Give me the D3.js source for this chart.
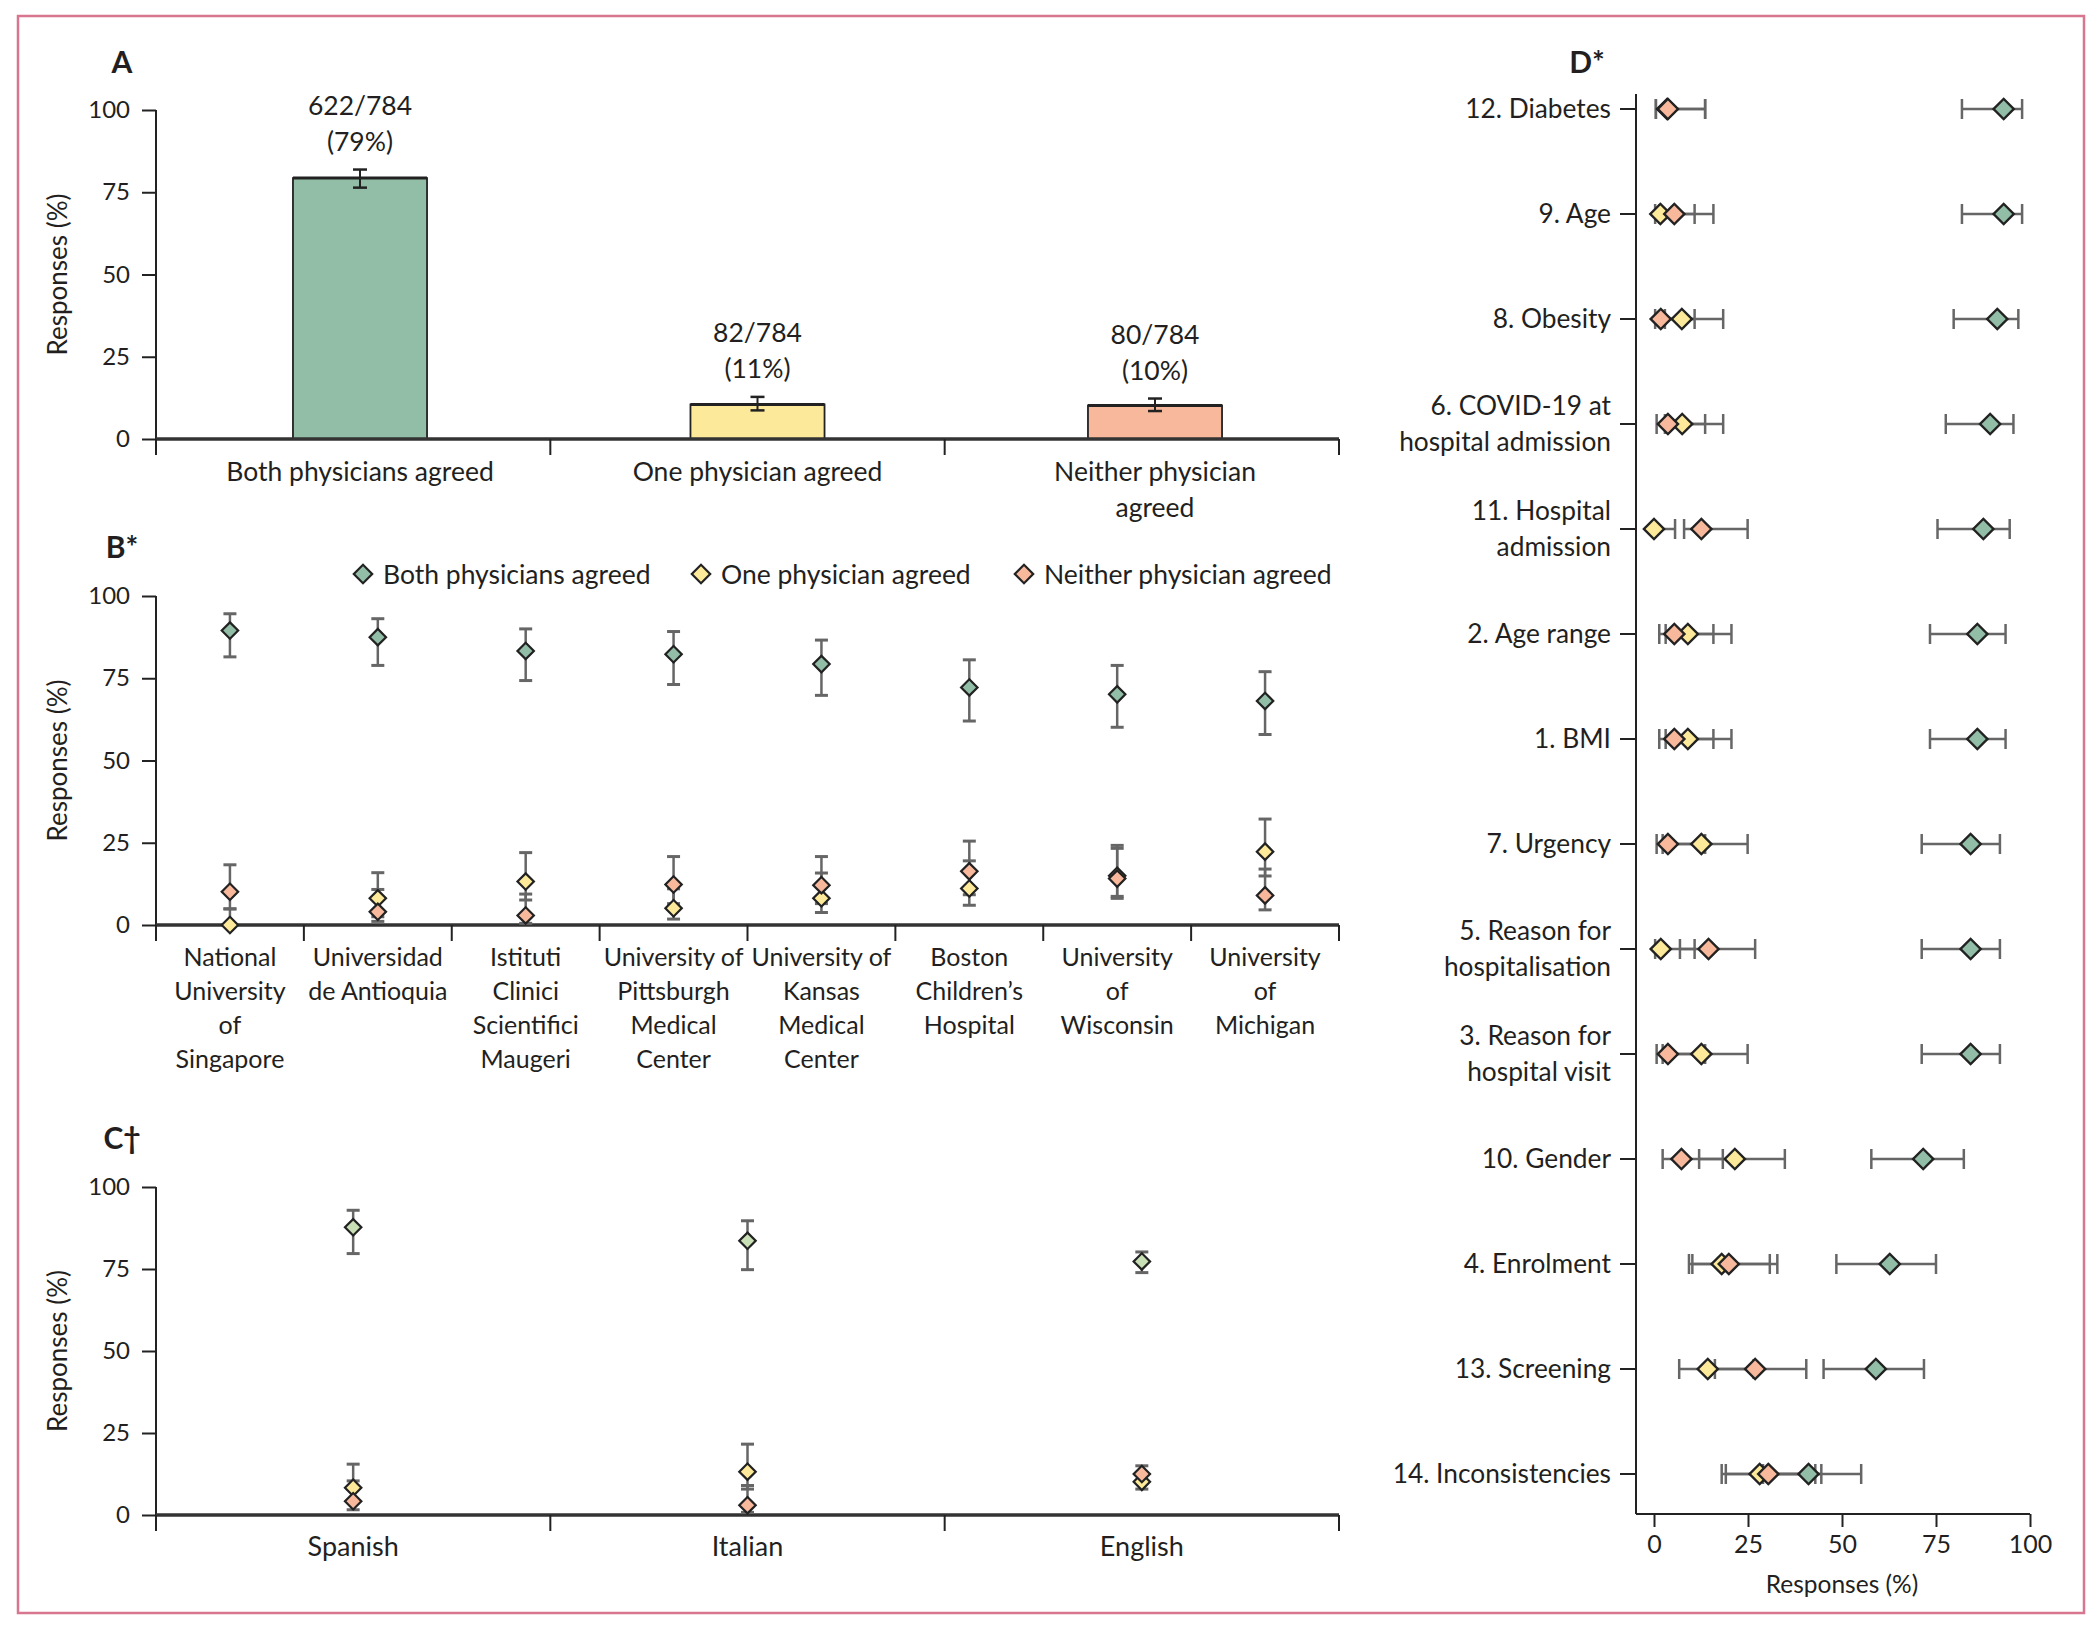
<!DOCTYPE html>
<html>
<head>
<meta charset="utf-8">
<script src="https://d3js.org/d3.v7.min.js"></script>
<style>
    body { margin: 0; background: #fff; }
    text { font-family: Lato, "Open Sans", sans-serif; fill: #231f20; }
    .ytitle { font-size: 26px; }
    .letter { font-weight: bold; font-size: 30px; }
    .tick text { font-size: 24px; font-family: Lato, sans-serif; }
</style>
</head>
<body>
<script>
    const width = 2100,
        height = 1626;

    // series shared by all panels
    const seriesNames = ["Both physicians agreed", "One physician agreed", "Neither physician agreed"];
    const seriesColors = ["#92bea7", "#fde99a", "#f8b89c"];
    const langGreen = "#c9e0b6";

    // panel A
    const agreeCats = ["Both physicians agreed", "One physician agreed", "Neither physician\nagreed"];
    const agreeCounts = ["622/784", "82/784", "80/784"];
    const agreePct = ["(79%)", "(11%)", "(10%)"];
    const agreeValues = [79.3, 10.5, 10.2];
    const agreeLow = [76.4, 8.7, 8.5];
    const agreeHigh = [81.9, 12.8, 12.3];

    // panel B: [value, low, high]
    const sites = ["National\nUniversity\nof\nSingapore", "Universidad\nde Antioquia", "Istituti\nClinici\nScientifici\nMaugeri",
        "University of\nPittsburgh\nMedical\nCenter", "University of\nKansas\nMedical\nCenter", "Boston\nChildren\u2019s\nHospital",
        "University\nof\nWisconsin", "University\nof\nMichigan"];
    const siteBoth = [[89.5, 81.5, 94.6], [87.5, 78.9, 93.1], [83.3, 74.3, 90.0], [82.3, 73.1, 89.2],
        [79.3, 69.8, 86.6], [72.2, 62.0, 80.6], [70.1, 60.1, 78.9], [68.1, 57.9, 77.0]];
    const siteOne = [[0, 0, 4.9], [8.1, 2.5, 15.9], [13.2, 7.6, 22.0], [5.1, 1.8, 11.0],
        [8.1, 3.8, 15.8], [11.1, 6.0, 19.5], [15.0, 8.7, 24.2], [22.3, 14.9, 32.2]];
    const siteNeither = [[10.1, 4.9, 18.3], [4.0, 1.1, 10.8], [2.9, 0.5, 9.4], [12.3, 6.5, 20.8],
        [12.1, 6.5, 20.8], [16.3, 9.2, 25.5], [14.1, 8.1, 23.3], [9.0, 4.6, 17.0]];

    // panel C
    const languages = ["Spanish", "Italian", "English"];
    const langBoth = [[87.7, 79.7, 92.9], [83.6, 74.8, 89.7], [77.3, 73.9, 80.2]];
    const langOne = [[8.3, 4.0, 15.5], [13.2, 7.9, 21.6], [10.1, 7.9, 12.9]];
    const langNeither = [[4.2, 1.6, 10.4], [3.0, 0.8, 9.0], [12.5, 10.6, 15.0]];

    // panel D
    const questions = ["12. Diabetes", "9. Age", "8. Obesity", "6. COVID-19 at\nhospital admission", "11. Hospital\nadmission",
        "2. Age range", "1. BMI", "7. Urgency", "5. Reason for\nhospitalisation", "3. Reason for\nhospital visit",
        "10. Gender", "4. Enrolment", "13. Screening", "14. Inconsistencies"];
    const qBoth = [[93.0, 81.9, 97.9], [93.0, 81.9, 97.9], [91.3, 79.7, 96.9], [89.4, 77.6, 95.6], [87.6, 75.4, 94.6],
        [86.0, 73.4, 93.5], [86.0, 73.4, 93.5], [84.2, 71.2, 92.0], [84.2, 71.2, 92.0], [84.2, 71.2, 92.0],
        [71.6, 57.8, 82.4], [62.7, 48.5, 75.0], [59.0, 45.1, 71.8], [41.1, 29.0, 55.1]];
    const qOne = [[3.5, 0.5, 13.6], [1.7, 0.3, 10.8], [7.4, 2.9, 18.4], [7.5, 2.9, 18.4], [0, 0, 5.6],
        [9.0, 3.1, 20.6], [9.0, 3.1, 20.6], [12.6, 2.3, 24.9], [1.8, 0.3, 10.8], [12.6, 2.3, 24.9],
        [21.5, 12.0, 34.8], [18.0, 9.3, 30.8], [14.3, 6.7, 26.5], [28.1, 18.0, 42.9]];
    const qNeither = [[3.7, 0.5, 13.6], [5.4, 1.5, 15.8], [1.8, 0.3, 10.8], [3.7, 0.7, 13.6], [12.6, 8.0, 24.9],
        [5.4, 1.4, 15.8], [5.4, 1.4, 15.8], [3.7, 0.7, 13.6], [14.5, 6.9, 26.9], [3.7, 0.7, 13.6],
        [7.3, 2.3, 18.3], [19.9, 10.2, 32.8], [26.9, 16.2, 40.5], [30.4, 19.1, 44.5]];

    const pctTicks = [0, 25, 50, 75, 100];
    const errColor = "#666";
    const markStroke = "#222";

    const svg = d3.select("body").append("svg").attr("width", width).attr("height", height);

    svg.append("rect")
        .attr("x", 18).attr("y", 16).attr("width", 2066).attr("height", 1597)
        .attr("fill", "none").attr("stroke", "#d8768f").attr("stroke-width", 2.5);

    function lines(g, str, x, y, lh, anchor, size) {
        const t = g.append("text")
            .attr("x", x).attr("y", y)
            .attr("text-anchor", anchor || "middle")
            .attr("font-size", size || 25);
        str.split("\n").forEach((s, i) => {
            t.append("tspan").attr("x", x).attr("dy", i === 0 ? "0.35em" : lh).text(s);
        });
        return t;
    }

    function diamond(area) {
        return d3.symbol().type(d3.symbolSquare).size(area)();
    }

    function yAxisLeft(g, y, x0, bottom, title) {
        const ax = g.append("g")
            .attr("transform", `translate(${x0},0)`)
            .call(d3.axisLeft(y).tickValues(pctTicks).tickSize(14).tickPadding(12));
        ax.select(".domain").remove();
        ax.selectAll(".tick line").attr("stroke", "#222").attr("stroke-width", 2);
        g.append("line")
            .attr("x1", x0).attr("x2", x0)
            .attr("y1", y(100)).attr("y2", bottom)
            .attr("stroke", "#222").attr("stroke-width", 2);
        g.append("text")
            .attr("class", "ytitle")
            .attr("transform", `translate(57,${(y(0) + y(100)) / 2}) rotate(-90)`)
            .attr("text-anchor", "middle")
            .attr("dominant-baseline", "central")
            .text(title);
    }

    // x axis with boundary ticks; labels placed by pos()
    function bandAxis(g, x, pos, y0, cats, lh, offset, size) {
        g.append("line")
            .attr("x1", x.range()[0]).attr("x2", x.range()[1])
            .attr("y1", y0).attr("y2", y0)
            .attr("stroke", "#333").attr("stroke-width", 3.5);
        const edges = cats.map(d => x(d)).concat([x.range()[1]]);
        g.selectAll(".edge").data(edges).join("line")
            .attr("x1", d => d).attr("x2", d => d)
            .attr("y1", y0).attr("y2", y0 + 16)
            .attr("stroke", "#222").attr("stroke-width", 2);
        cats.forEach(c => lines(g, c, pos(c), y0 + offset, lh, "middle", size));
    }

    // ---------- panel A ----------
    const gA = svg.append("g");
    const xA = d3.scaleBand().domain(agreeCats).range([156, 1339]);
    const barX = d3.scalePoint().domain(agreeCats).range([360, 1155]);
    const yA = d3.scaleLinear().domain([0, 100]).range([439, 110]);
    const barW = xA.bandwidth() * 0.34;

    gA.append("text").attr("class", "letter").attr("x", 122).attr("y", 73).attr("text-anchor", "middle").text("A");
    yAxisLeft(gA, yA, 156, 455, "Responses (%)");

    gA.selectAll(".bar").data(agreeCats).join("rect")
        .attr("x", d => barX(d) - barW / 2)
        .attr("width", barW)
        .attr("y", (d, i) => yA(agreeValues[i]))
        .attr("height", (d, i) => yA(0) - yA(agreeValues[i]))
        .attr("fill", (d, i) => seriesColors[i])
        .attr("stroke", "#222").attr("stroke-width", 1.8);
    gA.selectAll(".bartop").data(agreeCats).join("line")
        .attr("x1", d => barX(d) - barW / 2)
        .attr("x2", d => barX(d) + barW / 2)
        .attr("y1", (d, i) => yA(agreeValues[i]))
        .attr("y2", (d, i) => yA(agreeValues[i]))
        .attr("stroke", "#222").attr("stroke-width", 3);

    agreeCats.forEach((c, i) => {
        const cx = barX(c);
        gA.append("line").attr("x1", cx).attr("x2", cx)
            .attr("y1", yA(agreeLow[i])).attr("y2", yA(agreeHigh[i]))
            .attr("stroke", "#222").attr("stroke-width", 2);
        [agreeLow[i], agreeHigh[i]].forEach(v => {
            gA.append("line").attr("x1", cx - 7).attr("x2", cx + 7)
                .attr("y1", yA(v)).attr("y2", yA(v))
                .attr("stroke", "#222").attr("stroke-width", 2.5);
        });
        lines(gA, agreeCounts[i] + "\n" + agreePct[i], cx, yA(agreeHigh[i]) - 64, 36, "middle", 26.5);
    });
    bandAxis(gA, xA, barX, yA(0), agreeCats, 36, 33, 26.5);

    // ---------- panels B and C ----------
    function pointPanel(y0, y100, cats, series, colors, lh, letter, size) {
        const g = svg.append("g");
        const x = d3.scaleBand().domain(cats).range([156, 1339]);
        const y = d3.scaleLinear().domain([0, 100]).range([y0, y100]);
        const cx = d => x(d) + x.bandwidth() / 2;
        g.append("text").attr("class", "letter").attr("x", 122).attr("y", y100 - 38).attr("text-anchor", "middle").text(letter);
        yAxisLeft(g, y, 156, y0 + 16, "Responses (%)");
        bandAxis(g, x, cx, y(0), cats, lh, 32, size);
        series.forEach(s => {
            cats.forEach((c, i) => {
                const [v, lo, hi] = s[i];
                g.append("line").attr("x1", cx(c)).attr("x2", cx(c))
                    .attr("y1", y(lo)).attr("y2", y(hi))
                    .attr("stroke", errColor).attr("stroke-width", 2.5);
                [lo, hi].forEach(e => {
                    if (e === v) return;
                    g.append("line").attr("x1", cx(c) - 6.5).attr("x2", cx(c) + 6.5)
                        .attr("y1", y(e)).attr("y2", y(e))
                        .attr("stroke", errColor).attr("stroke-width", 3);
                });
            });
        });
        series.forEach((s, k) => {
            g.selectAll(".m" + k).data(cats).join("path")
                .attr("d", diamond(135))
                .attr("transform", (c, i) => `translate(${cx(c)},${y(s[i][0])}) rotate(45)`)
                .attr("fill", colors[k])
                .attr("stroke", markStroke).attr("stroke-width", 2.2);
        });
        return g;
    }

    const gB = pointPanel(925, 596, sites, [siteBoth, siteOne, siteNeither], seriesColors, 34, "B*", 25);
    pointPanel(1515, 1187, languages, [langBoth, langOne, langNeither], [langGreen, seriesColors[1], seriesColors[2]], 34, "C\u2020", 27);

    // legend
    const legendX = [363, 701, 1024];
    seriesNames.forEach((n, i) => {
        gB.append("path")
            .attr("d", diamond(170))
            .attr("transform", `translate(${legendX[i]},574) rotate(45)`)
            .attr("fill", seriesColors[i]).attr("stroke", markStroke).attr("stroke-width", 2.2);
        gB.append("text").attr("x", legendX[i] + 20).attr("y", 574)
            .attr("dominant-baseline", "central").attr("font-size", 26.5).text(n);
    });

    // ---------- panel D ----------
    const gD = svg.append("g");
    const xD = d3.scaleLinear().domain([0, 100]).range([1654, 2030]);
    const yD = d3.scalePoint().domain(questions).range([109, 1474]);
    const axX = 1636, axY = 1514;

    gD.append("text").attr("class", "letter").attr("x", 1587).attr("y", 73).attr("text-anchor", "middle").text("D*");
    gD.append("line").attr("x1", axX).attr("x2", axX).attr("y1", 94).attr("y2", axY)
        .attr("stroke", "#222").attr("stroke-width", 2);
    gD.append("line").attr("x1", axX).attr("x2", xD(100)).attr("y1", axY).attr("y2", axY)
        .attr("stroke", "#222").attr("stroke-width", 2);
    const xAxD = gD.append("g")
        .attr("transform", `translate(0,${axY})`)
        .call(d3.axisBottom(xD).tickValues(pctTicks).tickSize(13).tickPadding(8));
    xAxD.select(".domain").remove();
    xAxD.selectAll(".tick line").attr("stroke", "#222").attr("stroke-width", 2);
    xAxD.selectAll(".tick text").style("font-size", "25px");
    gD.append("text").attr("x", (xD(0) + xD(100)) / 2).attr("y", 1583)
        .attr("text-anchor", "middle").attr("dominant-baseline", "central")
        .attr("font-size", 24.5).text("Responses (%)");

    gD.selectAll(".qtick").data(questions).join("line")
        .attr("x1", axX - 16).attr("x2", axX)
        .attr("y1", d => yD(d)).attr("y2", d => yD(d))
        .attr("stroke", "#222").attr("stroke-width", 2);
    questions.forEach(q => {
        const n = q.split("\n").length;
        lines(gD, q, 1611, yD(q) - (n - 1) * 18, 36, "end", 26.3);
    });

    const qSeries = [qBoth, qOne, qNeither];
    qSeries.forEach(s => {
        questions.forEach((q, i) => {
            const [v, lo, hi] = s[i];
            gD.append("line").attr("x1", xD(lo)).attr("x2", xD(hi))
                .attr("y1", yD(q)).attr("y2", yD(q))
                .attr("stroke", errColor).attr("stroke-width", 2.5);
            [lo, hi].forEach(e => {
                if (e === v) return;
                gD.append("line").attr("x1", xD(e)).attr("x2", xD(e))
                    .attr("y1", yD(q) - 10).attr("y2", yD(q) + 10)
                    .attr("stroke", errColor).attr("stroke-width", 2.5);
            });
        });
    });
    qSeries.forEach((s, k) => {
        gD.selectAll(".d" + k).data(questions).join("path")
            .attr("d", diamond(205))
            .attr("transform", (q, i) => `translate(${xD(s[i][0])},${yD(q)}) rotate(45)`)
            .attr("fill", seriesColors[k])
            .attr("stroke", markStroke).attr("stroke-width", 2.4);
    });
</script>
</body>
</html>
